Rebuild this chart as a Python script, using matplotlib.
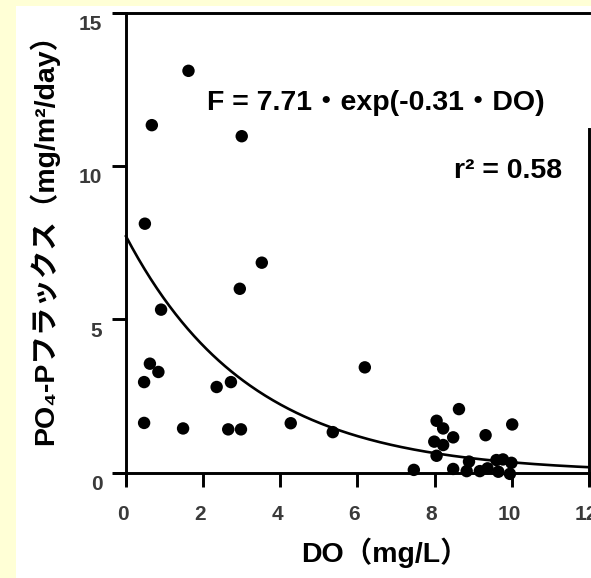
import numpy as np
import matplotlib
matplotlib.use("Agg")
import matplotlib.pyplot as plt
from matplotlib.patches import Rectangle
from matplotlib.transforms import ScaledTranslation

plt.rcParams['font.family'] = ['Liberation Sans', 'Noto Sans CJK JP', 'DejaVu Sans']

# data
do_vals = [1.62, 0.67, 3.00, 0.49, 3.52, 2.95, 0.91,
           0.62, 0.84, 0.47, 2.35, 2.72, 0.47, 1.48, 2.65, 2.98, 4.27,
           6.19, 5.36, 7.46, 8.63, 10.01, 9.32, 8.48, 8.22, 8.05, 7.99,
           8.22, 8.05, 8.48, 8.83, 8.89, 9.17, 9.37, 9.60, 9.77, 9.65,
           9.99, 9.95]
flux_vals = [13.1, 11.33, 10.97, 8.12, 6.85, 6.0, 5.32,
             3.56, 3.29, 2.96, 2.80, 2.96, 1.63, 1.45, 1.42, 1.42, 1.62,
             3.44, 1.33, 0.10, 2.08, 1.58, 1.23, 1.16, 1.45, 1.70, 1.02,
             0.91, 0.56, 0.13, 0.06, 0.37, 0.06, 0.15, 0.42, 0.44, 0.04,
             0.33, -0.03]
fit_a = 7.71
fit_b = -0.31
x_ticks = [0, 2, 4, 6, 8, 10, 12]
y_ticks = [0, 5, 10, 15]
equation_text = "F = 7.71・exp(-0.31・DO)"
r2_text = "r² = 0.58"
xlabel_text = "DO（mg/L）"
ylabel_text = "PO₄-Pフラックス（mg/m²/day）"

W, H = 591, 578
fig = plt.figure(figsize=(W / 100, H / 100), dpi=100)
fig.patch.set_facecolor('#FFFFD6')
fig.patches.append(Rectangle((16 / W, 0), 1 - 16 / W, 1 - 6 / H,
                             transform=fig.transFigure, facecolor='white',
                             edgecolor='none', zorder=-5))

left_px, right_px = 114.4, 589.0
top_px, bot_px = 12.5, 483.7
ax = fig.add_axes([left_px / W, 1 - bot_px / H,
                   (right_px - left_px) / W, (bot_px - top_px) / H])
ax.set_zorder(2)
ax.set_facecolor('none')
ax.set_xlim(-0.3, 12)
ax.set_ylim(-0.35, 15)

lw = 2.1
ax.spines['left'].set_position(('data', 0))
ax.spines['bottom'].set_position(('data', 0))
for s in ax.spines.values():
    s.set_linewidth(lw)
    s.set_color('black')
ax.spines['right'].set_bounds(-0.35, 11.2)

ax.set_xticks(x_ticks)
ax.set_yticks(y_ticks)
ax.tick_params(axis='both', direction='out', length=10, width=lw,
               labelsize=15, labelcolor='#3a3a3a')
ax.tick_params(axis='y', pad=7)
ax.tick_params(axis='x', pad=13)
for lab in ax.get_yticklabels():
    lab.set_fontweight('bold')
    lab.set_transform(lab.get_transform() +
                      ScaledTranslation(0, -0.10, fig.dpi_scale_trans))
for lab in ax.get_xticklabels():
    lab.set_fontweight('bold')
    lab.set_transform(lab.get_transform() +
                      ScaledTranslation(-0.03, 0, fig.dpi_scale_trans))

xs = np.linspace(0, 12, 300)
ax.plot(xs, fit_a * np.exp(fit_b * xs), color='black', lw=1.9, zorder=3)
ax.scatter(do_vals, flux_vals, s=80, color='black', edgecolors='none',
           zorder=4, clip_on=False)

fig.text(207 / W, 1 - 110 / H, equation_text, fontsize=20.5, fontweight='bold',
         ha='left', va='baseline')
fig.text(562 / W, 1 - 178 / H, r2_text, fontsize=20.5, fontweight='bold',
         ha='right', va='baseline')
fig.text(385 / W, 1 - 553 / H, xlabel_text, fontsize=20.5, fontweight='bold',
         ha='center', va='center')
fig.text(44 / W, 1 - 232 / H, ylabel_text, fontsize=20.5, fontweight='bold',
         ha='center', va='center', rotation=90)

fig.savefig('out.png', dpi=100, facecolor=fig.get_facecolor())
